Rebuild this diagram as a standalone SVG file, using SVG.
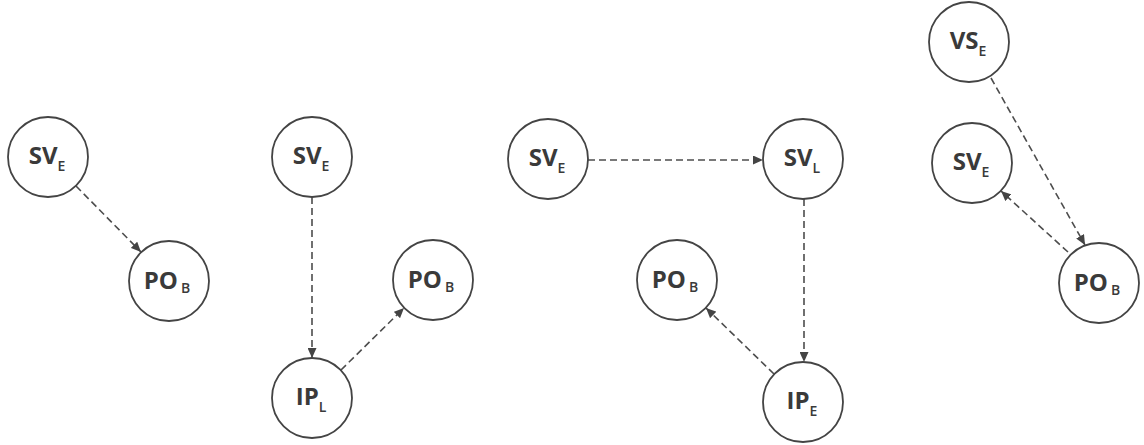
<svg xmlns="http://www.w3.org/2000/svg" width="1144" height="445" viewBox="0 0 1144 445">
<style>
.node circle{fill:#fff;stroke:#444;stroke-width:1.8}
.node text{font-family:"Open Sans","DejaVu Sans",sans-serif;font-weight:700;font-size:24px;fill:#3a3a3a;text-anchor:middle}
.sub{font-size:14px;font-weight:600}
.edge{fill:none;stroke:#4d4d4d;stroke-width:1.6;stroke-dasharray:7 4;marker-end:url(#arr)}
</style>
<defs>
<marker id="arr" markerUnits="userSpaceOnUse" markerWidth="11" markerHeight="9" refX="10" refY="4.5" orient="auto">
<path d="M0,0 L10,4.5 L0,9 Z" fill="#444"/>
</marker>
</defs>
<rect width="1144" height="445" fill="#fff"/>
<g id="connectors">
<line class="edge" x1="76" y1="186" x2="141" y2="252"/>
<line class="edge" x1="312" y1="197" x2="312" y2="358"/>
<line class="edge" x1="341" y1="370" x2="404" y2="308"/>
<line class="edge" x1="588" y1="160" x2="763" y2="160"/>
<line class="edge" x1="804" y1="199" x2="804" y2="362"/>
<line class="edge" x1="774" y1="374" x2="706" y2="308"/>
<line class="edge" x1="991" y1="78" x2="1085" y2="245"/>
<line class="edge" x1="1068" y1="252" x2="1001" y2="191"/>
</g>
<g id="n1_sve" class="node"><circle cx="48" cy="157" r="40"/><text x="47" y="164">SV<tspan class="sub" dy="7">E</tspan></text></g>
<g id="n1_pob" class="node"><circle cx="169" cy="281" r="40"/><text x="167" y="289">PO<tspan class="sub" dx="3" dy="4">B</tspan></text></g>
<g id="n2_sve" class="node"><circle cx="312" cy="157" r="40"/><text x="311" y="164">SV<tspan class="sub" dy="7">E</tspan></text></g>
<g id="n2_ipl" class="node"><circle cx="312" cy="398" r="40"/><text x="311" y="405">IP<tspan class="sub" dy="7">L</tspan></text></g>
<g id="n2_pob" class="node"><circle cx="433" cy="280" r="40"/><text x="431" y="288">PO<tspan class="sub" dx="3" dy="4">B</tspan></text></g>
<g id="n3_sve" class="node"><circle cx="548" cy="159" r="40"/><text x="547" y="166">SV<tspan class="sub" dy="7">E</tspan></text></g>
<g id="n3_svl" class="node"><circle cx="803" cy="159" r="40"/><text x="802" y="166">SV<tspan class="sub" dy="7">L</tspan></text></g>
<g id="n3_pob" class="node"><circle cx="677" cy="280" r="40"/><text x="675" y="288">PO<tspan class="sub" dx="3" dy="4">B</tspan></text></g>
<g id="n3_ipe" class="node"><circle cx="803" cy="402" r="40"/><text x="802" y="409">IP<tspan class="sub" dy="7">E</tspan></text></g>
<g id="n4_vse" class="node"><circle cx="969" cy="42" r="40"/><text x="968" y="49">VS<tspan class="sub" dy="7">E</tspan></text></g>
<g id="n4_sve" class="node"><circle cx="972" cy="163" r="40"/><text x="971" y="170">SV<tspan class="sub" dy="7">E</tspan></text></g>
<g id="n4_pob" class="node"><circle cx="1099" cy="283" r="40"/><text x="1097" y="291">PO<tspan class="sub" dx="3" dy="4">B</tspan></text></g>
</svg>
